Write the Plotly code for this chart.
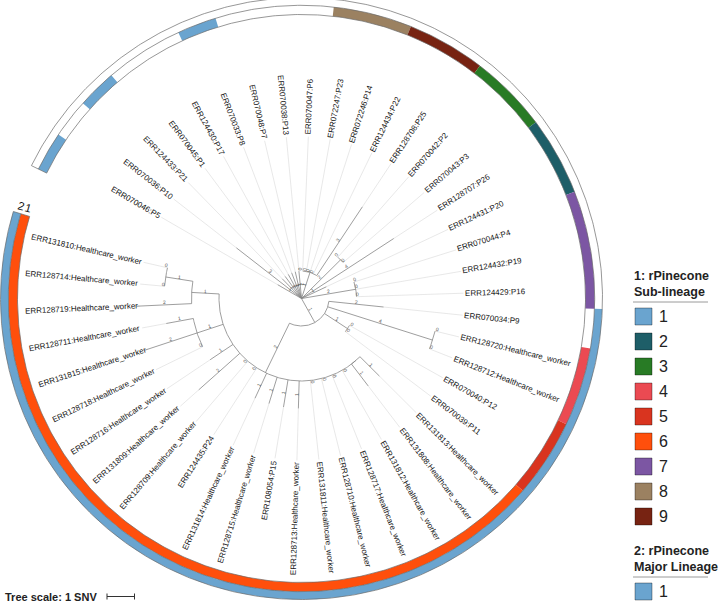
import math
import plotly.graph_objects as go

# ---------------- data ----------------
LEAVES = [
    "ERR070046:P5", "ERR070036:P10", "ERR124433:P21", "ERR070045:P1", "ERR124430:P17",
    "ERR070033:P8", "ERR070048:P7", "ERR070038:P13", "ERR070047:P6", "ERR072247:P23",
    "ERR072246:P14", "ERR124434:P22", "ERR128708:P25", "ERR070042:P2", "ERR070043:P3",
    "ERR128707:P26", "ERR124431:P20", "ERR070044:P4", "ERR124432:P19", "ERR124429:P16",
    "ERR070034:P9", "ERR128720:Healthcare_worker", "ERR128712:Healthcare_worker",
    "ERR070040:P12", "ERR070039:P11", "ERR131813:Healthcare_worker",
    "ERR131808:Healthcare_worker", "ERR131812:Healthcare_worker", "ERR128717:Healthcare_worker",
    "ERR128710:Healthcare_worker", "ERR131811:Healthcare_worker", "ERR128713:Healthcare_worker",
    "ERR108054:P15", "ERR128715:Healthcare_worker", "ERR131814:Healthcare_worker",
    "ERR124435:P24", "ERR128709:Healthcare_worker", "ERR131809:Healthcare_worker",
    "ERR128716:Healthcare_worker", "ERR128718:Healthcare_worker", "ERR131815:Healthcare_worker",
    "ERR128711:Healthcare_worker", "ERR128719:Healthcare_worker", "ERR128714:Healthcare_worker",
    "ERR131810:Healthcare_worker",
]

# ring 1: rPinecone sub-lineage per leaf (None = no value)
SUB_LINEAGE = [1, None, 1, None, None, 1, None, None, None, 8, 8, 9, 9, 3, 3, 2, 2, 7, 7, 7,
               None, 4, 4, 5, 5] + [6] * 20
# ring 2: rPinecone major lineage per leaf
MAJOR_LINEAGE = [None] * 20 + [1] * 25

SUB_LEGEND = ["1", "2", "3", "4", "5", "6", "7", "8", "9"]
SUB_COLORS = {1: "#6aa4cf", 2: "#1e5e68", 3: "#287b25", 4: "#eb4a52", 5: "#d9341f",
              6: "#ff4f0c", 7: "#7c56a3", 8: "#9b8161", 9: "#772312"}
MAJOR_LEGEND = ["1"]
MAJOR_COLORS = {1: "#6aa4cf"}

# tree: (leaf name | list of children, branch length in SNV)
HW = "Healthcare_worker"
TREE = [
    ("ERR070046:P5", 1),
    ("ERR070036:P10", 3),
    ("ERR124433:P21", 1),
    ("ERR070045:P1", 1),
    ("ERR124430:P17", 1),
    ("ERR070033:P8", 1),
    ("ERR070048:P7", 1),
    ("ERR070038:P13", 1),
    ([("ERR070047:P6", 0), ("ERR072247:P23", 0), ("ERR072246:P14", 0),
      ("ERR124434:P22", 0), ("ERR128708:P25", 3)], 1),
    ([("ERR070042:P2", 0), ("ERR070043:P3", 0)], 2),
    ("ERR128707:P26", 4),
    ("ERR124431:P20", 1),
    ([("ERR070044:P4", 0), ("ERR124432:P19", 0), ("ERR124429:P16", 0)], 2),
    ([("ERR070034:P9", 2),
      ([("ERR128720:" + HW, 0), ("ERR128712:" + HW, 0)], 4),
      ([("ERR070040:P12", 0), ("ERR070039:P11", 0)], 1),
      ([([("ERR131813:" + HW, 1), ("ERR131808:" + HW, 1)], 0),
        ("ERR131812:" + HW, 0), ("ERR128717:" + HW, 0), ("ERR128710:" + HW, 0),
        ("ERR131811:" + HW, 0), ("ERR128713:" + HW, 1), ("ERR108054:P15", 1),
        ("ERR128715:" + HW, 1), ("ERR131814:" + HW, 1), ("ERR124435:P24", 0),
        ("ERR128709:" + HW, 0), ("ERR131809:" + HW, 2), ("ERR128716:" + HW, 1),
        ([("ERR128718:" + HW, 0), ("ERR131815:" + HW, 2), ("ERR128711:" + HW, 1)], 1),
        ([("ERR128719:" + HW, 2), ([("ERR128714:" + HW, 0), ("ERR131810:" + HW, 0)], 1)], 1),
        ], 2),
      ], 1),
]

# ---------------- geometry / style ----------------
W, H = 720, 605
CX, CY = 301.5, H - 298.5
SNV_PX = 27.5
LABEL_R = 164
RING1 = (284.0, 293.2)
RING2 = (293.2, 301.0)
ARC_START = 153.8
ARC_SPAN = 350.6
STEP = ARC_SPAN / len(LEAVES)
FONT = "Liberation Sans, Arial, sans-serif"

CW = {'E': 667, 'R': 722, 'P': 667, 'H': 722, ':': 278, '_': 556, 'a': 556, 'e': 556,
      'l': 222, 't': 278, 'h': 556, 'c': 500, 'r': 333, 'w': 722, 'o': 556, 'k': 500}


def text_width(s, size):
    return sum(CW.get(ch, 556) for ch in s) * size / 1000.0


def pol(r, deg):
    a = math.radians(deg)
    return CX + r * math.cos(a), CY + r * math.sin(a)


def arc_pts(r, a0, a1):
    n = max(2, int(abs(a1 - a0) / 0.5) + 1)
    return [pol(r, a0 + (a1 - a0) * k / (n - 1)) for k in range(n)]


def leaf_angle(i):
    return ARC_START - STEP * (i + 0.5)


def text_rot(deg):
    a = deg % 360
    if 90 < a < 270:
        return 180 - a, a - 90
    return -a, a + 90


lx, ly = [], []


def add_poly(pts):
    for x, y in pts:
        lx.append(x)
        ly.append(y)
    lx.append(None)
    ly.append(None)


tips = {}
blabels = []


def walk(node, r0):
    kids, length = node
    r1 = r0 + length * SNV_PX
    if isinstance(kids, str):
        i = LEAVES.index(kids)
        ang = leaf_angle(i)
        tips[i] = (ang, r1)
    else:
        angs = [walk(c, r1) for c in kids]
        ang = (angs[0] + angs[-1]) / 2
        if r1 > 0:
            add_poly(arc_pts(r1, angs[0], angs[-1]))
    if length > 0:
        add_poly([pol(r0, ang), pol(r1, ang)])
        blabels.append((str(length), (r0 + r1) / 2, ang))
    elif isinstance(kids, str):
        blabels.append(("0", r1 + 1.5, ang))
    return ang


for child in TREE:
    walk(child, 0.0)

fig = go.Figure()

# label guide lines
gx, gy = [], []
for i, (ang, r) in tips.items():
    for x, y in [pol(r, ang), pol(LABEL_R - 2, ang)]:
        gx.append(x)
        gy.append(y)
    gx.append(None)
    gy.append(None)
fig.add_trace(go.Scatter(x=gx, y=gy, mode="lines", line=dict(color="#dedede", width=0.7),
                         hoverinfo="skip"))

# tree branches
fig.add_trace(go.Scatter(x=lx, y=ly, mode="lines", line=dict(color="#858585", width=0.8),
                         hoverinfo="skip"))


# rings
def ring(values, colors, r_in, r_out):
    n = len(values)
    i = 0
    while i < n:
        v = values[i]
        j = i
        while j + 1 < n and values[j + 1] == v:
            j += 1
        if v is not None:
            a0 = ARC_START - STEP * i
            a1 = ARC_START - STEP * (j + 1)
            pts = arc_pts(r_out, a0, a1) + arc_pts(r_in, a1, a0)
            pts.append(pts[0])
            fig.add_trace(go.Scatter(x=[p[0] for p in pts], y=[p[1] for p in pts],
                                     mode="lines", fill="toself", fillcolor=colors[v],
                                     line=dict(width=0, color=colors[v]), hoverinfo="skip"))
        i = j + 1


ring(SUB_LINEAGE, SUB_COLORS, *RING1)
ring(MAJOR_LINEAGE, MAJOR_COLORS, *RING2)

ox, oy = [], []
end_ang = ARC_START - ARC_SPAN
for r in (RING1[0], RING1[1], RING2[1]):
    for p in arc_pts(r, ARC_START, end_ang):
        ox.append(p[0])
        oy.append(p[1])
    ox.append(None)
    oy.append(None)
for a in (ARC_START, end_ang):
    for p in (pol(RING1[0], a), pol(RING2[1], a)):
        ox.append(p[0])
        oy.append(p[1])
    ox.append(None)
    oy.append(None)
fig.add_trace(go.Scatter(x=ox, y=oy, mode="lines", line=dict(color="#6a6a6a", width=0.7),
                         hoverinfo="skip"))

ann = []
# leaf labels
for i, name in enumerate(LEAVES):
    ang = leaf_angle(i)
    w = text_width(name, 8)
    x, y = pol(LABEL_R + w / 2, ang)
    rot, _ = text_rot(ang)
    ann.append(dict(x=x, y=y, text=name, showarrow=False, textangle=rot,
                    font=dict(family=FONT, size=8, color="#141414"),
                    xanchor="center", yanchor="middle"))

# branch length labels
for txt, r, ang in blabels:
    rot, perp = text_rot(ang)
    bx, by = pol(r, ang)
    px, py = math.cos(math.radians(perp)) * 2.6, math.sin(math.radians(perp)) * 2.6
    ann.append(dict(x=bx + px, y=by + py, text=txt, showarrow=False, textangle=rot,
                    font=dict(family=FONT, size=5, color="#555555"),
                    xanchor="center", yanchor="middle"))

# ring numbers (placed in the gap just past the end of each ring)
for txt, r, a in (("2", (RING2[0] + RING2[1]) / 2 - 1.5, end_ang - 1.5),
                  ("1", (RING1[0] + RING1[1]) / 2 - 0.5, end_ang - 1.6)):
    x, y = pol(r, a)
    ann.append(dict(x=x, y=y, text=txt, showarrow=False, textangle=16,
                    font=dict(family=FONT, size=11.5, color="#111111"),
                    xanchor="center", yanchor="middle"))

# legends
shapes = []


def legend(title1, title2, y_title, labels, colors):
    ann.append(dict(x=632, y=H - y_title, text="<b>%s</b>" % title1, showarrow=False,
                    font=dict(family=FONT, size=12.5, color="#222222"),
                    xanchor="left", yanchor="middle"))
    ann.append(dict(x=632, y=H - (y_title + 16), text="<b>%s</b>" % title2, showarrow=False,
                    font=dict(family=FONT, size=12.5, color="#222222"),
                    xanchor="left", yanchor="middle"))
    yl = y_title + 26.5
    shapes.append(dict(type="line", x0=633, x1=708, y0=H - yl, y1=H - yl,
                       line=dict(color="#9a9a9a", width=1)))
    for k, lab in enumerate(labels):
        yc = yl + 14.5 + 25 * k
        shapes.append(dict(type="rect", x0=635, x1=652, y0=H - yc - 8.5, y1=H - yc + 8.5,
                           fillcolor=colors[int(lab)], line=dict(color="rgba(0,0,0,0.35)", width=1)))
        ann.append(dict(x=657, y=H - yc, text=lab, showarrow=False,
                        font=dict(family=FONT, size=16, color="#222222"),
                        xanchor="left", yanchor="middle"))


legend("1: rPinecone", "Sub-lineage", 275.5, SUB_LEGEND, SUB_COLORS)
legend("2: rPinecone", "Major Lineage", 550.5, MAJOR_LEGEND, MAJOR_COLORS)

# tree scale
ann.append(dict(x=3, y=H - 596.5, text="<b>Tree scale: 1 SNV</b>", showarrow=False,
                font=dict(family=FONT, size=11, color="#222222"), xanchor="left", yanchor="middle"))
sx0 = 107
shapes.append(dict(type="line", x0=sx0, x1=sx0 + SNV_PX, y0=H - 596.5, y1=H - 596.5,
                   line=dict(color="#333333", width=1)))
for xx in (sx0, sx0 + SNV_PX):
    shapes.append(dict(type="line", x0=xx, x1=xx, y0=H - 593.5, y1=H - 599.5,
                       line=dict(color="#333333", width=1)))

fig.update_layout(
    width=W, height=H, margin=dict(l=0, r=0, t=0, b=0),
    xaxis=dict(range=[0, W], visible=False, fixedrange=True),
    yaxis=dict(range=[0, H], visible=False, fixedrange=True),
    plot_bgcolor="white", paper_bgcolor="white", showlegend=False,
    annotations=ann, shapes=shapes,
)
fig.write_html("out.html", config={"displayModeBar": False},
               post_script="document.body.style.margin='0';")
